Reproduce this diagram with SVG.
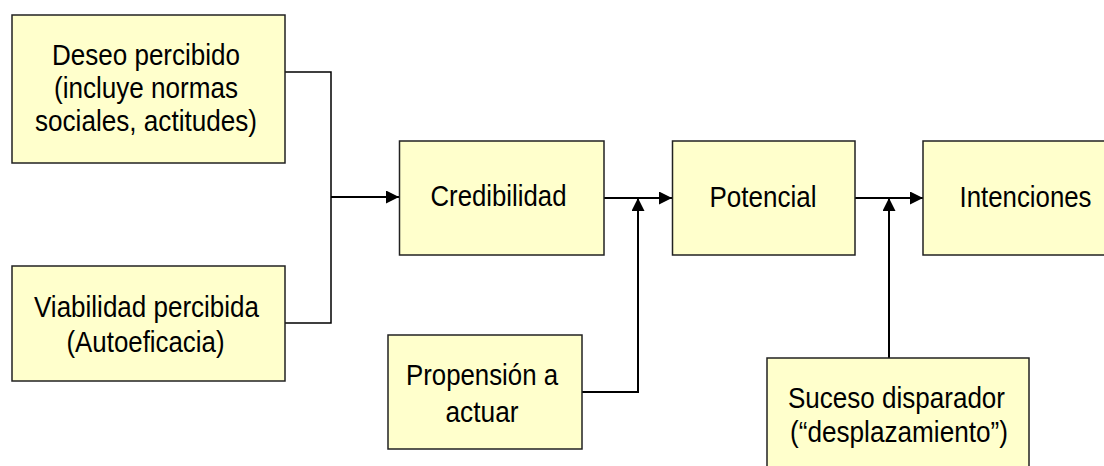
<svg xmlns="http://www.w3.org/2000/svg" width="1104" height="466" viewBox="0 0 1104 466">
<defs>
<style>
.box{fill:#FFFFCC;stroke:#222;stroke-width:1.5}
.t{font-family:"Liberation Sans",Arial,sans-serif;font-size:29px;fill:#000;text-anchor:middle}
.ln{fill:none;stroke:#000;stroke-width:1.5}
.ar{fill:none;stroke:#000;stroke-width:2}
</style>
<marker id="ah" markerUnits="userSpaceOnUse" markerWidth="13" markerHeight="13" viewBox="0 0 13 13" refX="13" refY="6.5" orient="auto">
<path d="M0,0 L13,6.5 L0,13 Z" fill="#000"/>
</marker>
</defs>
<rect width="1104" height="466" fill="#fff"/>
<g id="connectors">
<path class="ln" d="M285,72 H331 V323 H285"/>
<path class="ar" d="M331,197 H399" marker-end="url(#ah)"/>
<path class="ar" d="M604,198 H672" marker-end="url(#ah)"/>
<path class="ar" d="M582,392 H638 V198" marker-end="url(#ah)"/>
<path class="ar" d="M855,198 H923" marker-end="url(#ah)"/>
<path class="ar" d="M889,358 V198" marker-end="url(#ah)"/>
</g>
<g id="deseo">
<rect class="box" x="12" y="15" width="273" height="148"/>
<text class="t" x="146" y="65" textLength="188" lengthAdjust="spacingAndGlyphs">Deseo percibido</text>
<text class="t" x="146" y="98" textLength="184" lengthAdjust="spacingAndGlyphs">(incluye normas</text>
<text class="t" x="146" y="131" textLength="222" lengthAdjust="spacingAndGlyphs">sociales, actitudes)</text>
</g>
<g id="viabilidad">
<rect class="box" x="12" y="266" width="273" height="115"/>
<text class="t" x="146.5" y="317" textLength="225" lengthAdjust="spacingAndGlyphs">Viabilidad percibida</text>
<text class="t" x="145.5" y="352" textLength="158" lengthAdjust="spacingAndGlyphs">(Autoeficacia)</text>
</g>
<g id="credibilidad">
<rect class="box" x="399.5" y="141" width="204.5" height="114"/>
<text class="t" x="498.5" y="206" textLength="136" lengthAdjust="spacingAndGlyphs">Credibilidad</text>
</g>
<g id="potencial">
<rect class="box" x="672.5" y="141" width="182.5" height="114"/>
<text class="t" x="763" y="206.5" textLength="107" lengthAdjust="spacingAndGlyphs">Potencial</text>
</g>
<g id="intenciones">
<rect class="box" x="923" y="141" width="190" height="114"/>
<text class="t" x="1025.5" y="206.5" textLength="132" lengthAdjust="spacingAndGlyphs">Intenciones</text>
</g>
<g id="propension">
<rect class="box" x="388" y="335" width="194" height="114"/>
<text class="t" x="482" y="384.5" textLength="152" lengthAdjust="spacingAndGlyphs">Propensión a</text>
<text class="t" x="482" y="422" textLength="73" lengthAdjust="spacingAndGlyphs">actuar</text>
</g>
<g id="suceso">
<rect class="box" x="767" y="358" width="262" height="120"/>
<text class="t" x="896.5" y="408" textLength="217" lengthAdjust="spacingAndGlyphs">Suceso disparador</text>
<text class="t" x="899" y="442" textLength="218" lengthAdjust="spacingAndGlyphs">(“desplazamiento”)</text>
</g>
</svg>
